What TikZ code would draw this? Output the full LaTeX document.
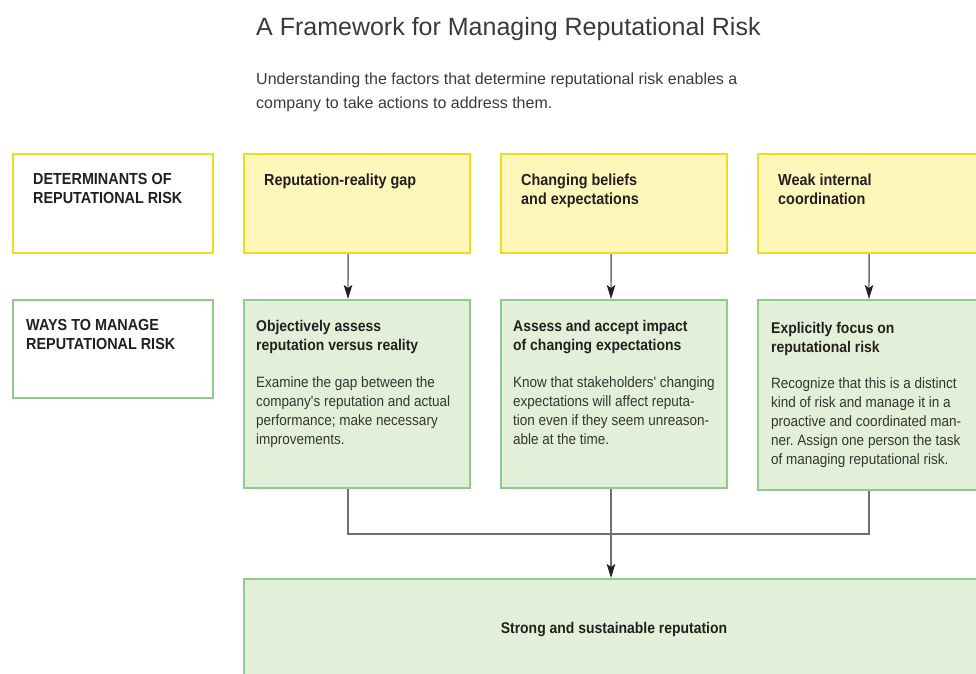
\documentclass[tikz,border=0pt]{standalone}
\usepackage{fontspec}
\setmainfont{Liberation Sans}
\newfontfamily\narrowfont[FakeStretch=0.9]{Liberation Sans}
\frenchspacing
\usetikzlibrary{arrows.meta,positioning}
\definecolor{inkgray}{HTML}{231F20}
\definecolor{bodygray}{HTML}{363434}
\definecolor{titlegray}{HTML}{3A3A3A}
\definecolor{riskyellow}{HTML}{EEDC1F}
\definecolor{riskfill}{HTML}{FFF7B9}
\definecolor{managegreen}{HTML}{92C98D}
\definecolor{managefill}{HTML}{E2F0D9}
\definecolor{linkgray}{HTML}{707070}

\begin{document}
\begin{tikzpicture}[
  x=1pt,
  y=-1pt,
  cell/.style={rectangle, inner sep=0pt, anchor=north west},
  riskbox/.style={cell, draw=riskyellow, fill=riskfill, line width=2.2pt},
  riskrow/.style={cell, draw=riskyellow, fill=white, line width=2.2pt},
  waybox/.style={cell, draw=managegreen, fill=managefill, line width=2pt},
  wayrow/.style={cell, draw=managegreen, fill=white, line width=2pt},
  rowlabel/.style={inner sep=0pt, align=left, text=inkgray, font=\narrowfont\bfseries\fontsize{16}{19}\selectfont},
  waytitle/.style={inner sep=0pt, align=left, text=inkgray, font=\narrowfont\bfseries\fontsize{15.5}{19}\selectfont},
  waytext/.style={inner sep=0pt, align=left, text=bodygray, font=\narrowfont\fontsize{15}{19}\selectfont},
  link/.style={draw=linkgray, line width=1.4pt},
  feed/.style={link, -{Stealth[length=14pt, width=8.5pt, inset=3pt, color=inkgray]}}
]
\useasboundingbox (0,0) rectangle (976,673);
\clip (0,0) rectangle (976,673);

% heading
\node[anchor=base west, inner sep=0pt, text=titlegray, font=\fontsize{25}{30}\selectfont] (title) at (256,35) {A Framework for Managing Reputational Risk};
\node[anchor=north west, inner sep=0pt, align=left, text=titlegray, font=\fontsize{16}{24}\selectfont] (intro) at (256,73) {Understanding the factors that determine reputational risk enables a\\company to take actions to address them.};

% row headers
\node[riskrow, minimum width=200pt, minimum height=99pt] (detrow) at (12,153) {};
\node[rowlabel, below right=20pt and 21pt of detrow.north west] (detlabel) {DETERMINANTS OF\\REPUTATIONAL RISK};
\node[wayrow, minimum width=200pt, minimum height=98pt] (wayrow) at (12,299) {};
\node[rowlabel, below right=20pt and 14pt of wayrow.north west] (waylabel) {WAYS TO MANAGE\\REPUTATIONAL RISK};

% determinants
\node[riskbox, minimum width=226pt, minimum height=99pt] (gap) at (243,153) {};
\node[rowlabel, below right=21pt and 21pt of gap.north west] (gaplabel) {Reputation-reality gap};
\node[riskbox, minimum width=226pt, minimum height=99pt] (beliefs) at (500,153) {};
\node[rowlabel, below right=21pt and 21pt of beliefs.north west] (beliefslabel) {Changing beliefs\\and expectations};
\node[riskbox, minimum width=226pt, minimum height=99pt] (coord) at (757,153) {};
\node[rowlabel, below right=21pt and 21pt of coord.north west] (coordlabel) {Weak internal\\coordination};

% ways to manage
\node[waybox, minimum width=226pt, minimum height=188pt] (assess) at (243,299) {};
\node[waytitle, below right=21pt and 13pt of assess.north west] (assesshead) {Objectively assess\\reputation versus reality};
\node[waytext, below right=77pt and 13pt of assess.north west] (assessbody) {Examine the gap between the\\company's reputation and actual\\performance; make necessary\\improvements.};
\node[waybox, minimum width=226pt, minimum height=188pt] (accept) at (500,299) {};
\node[waytitle, below right=21pt and 13pt of accept.north west] (accepthead) {Assess and accept impact\\of changing expectations};
\node[waytext, below right=77pt and 13pt of accept.north west] (acceptbody) {Know that stakeholders' changing\\expectations will affect reputa-\\tion even if they seem unreason-\\able at the time.};
\node[waybox, minimum width=226pt, minimum height=190pt] (focus) at (757,299) {};
\node[waytitle, below right=23pt and 14pt of focus.north west] (focushead) {Explicitly focus on\\reputational risk};
\node[waytext, below right=78pt and 14pt of focus.north west] (focusbody) {Recognize that this is a distinct\\kind of risk and manage it in a\\proactive and coordinated man-\\ner. Assign one person the task\\of managing reputational risk.};

% outcome
\node[waybox, minimum width=740pt, minimum height=102pt, waytitle] (outcome) at (243,578) {Strong and sustainable reputation};

% connectors
\draw[feed] ([xshift=-9pt]gap.south) -- ([xshift=-9pt]assess.north);
\draw[feed] ([xshift=-3pt]beliefs.south) -- ([xshift=-3pt]accept.north);
\draw[feed] ([xshift=-2pt]coord.south) -- ([xshift=-2pt]focus.north);
\coordinate (merge) at ([xshift=-3pt, yshift=-45pt]accept.south);
\draw[link] ([xshift=-9pt]assess.south) |- (merge) -| ([xshift=-2pt]focus.south);
\draw[feed] ([xshift=-3pt]accept.south) -- (merge |- outcome.north);
\end{tikzpicture}
\end{document}
